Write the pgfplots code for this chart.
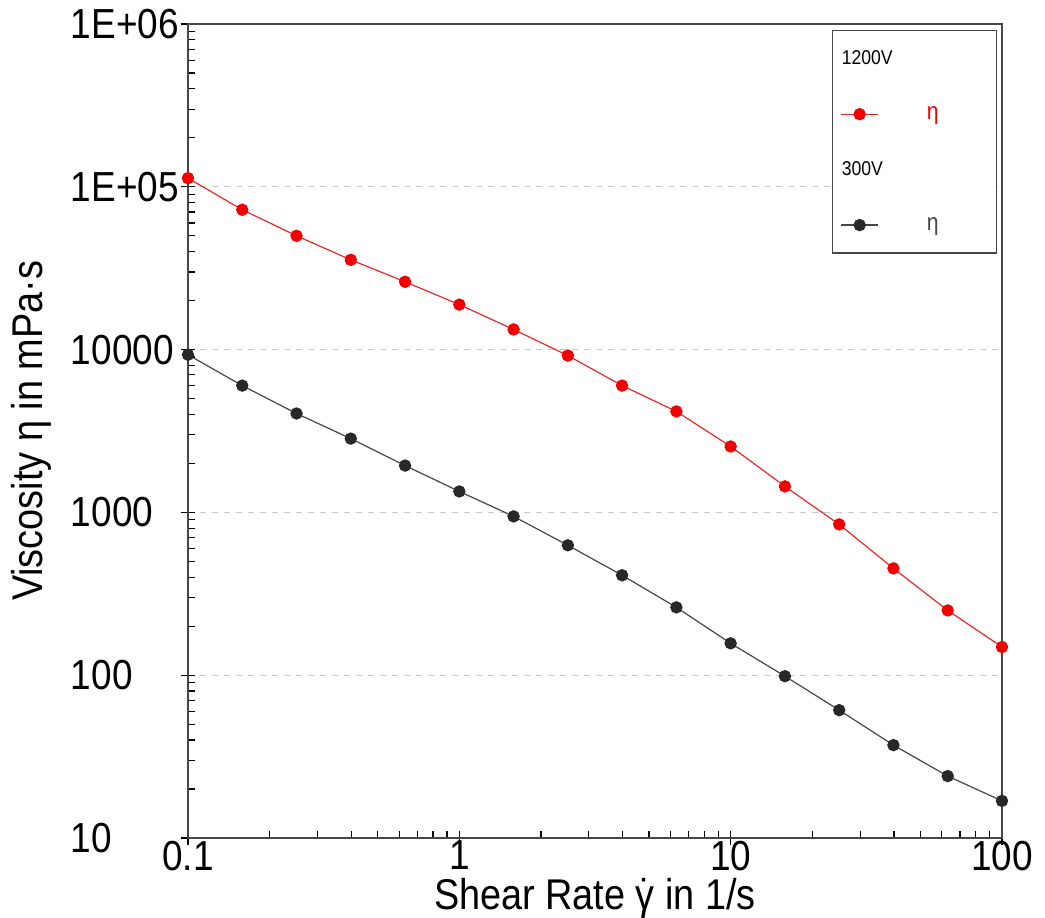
\documentclass[border=0pt]{standalone}
\usepackage{fontspec}
\setmainfont[FakeStretch=0.88]{Liberation Sans}
\usepackage{pgfplots}
\pgfplotsset{compat=1.18}
\usetikzlibrary{calc}

\definecolor{redser}{RGB}{235,40,40}
\definecolor{redmk}{RGB}{240,0,0}
\definecolor{darkser}{RGB}{70,70,70}
\definecolor{darkmk}{RGB}{40,40,40}
\definecolor{gridc}{RGB}{200,200,200}

\newcommand{\gdot}{\ooalign{γ\cr\hidewidth ˙\hidewidth\cr}}

\begin{document}
\begin{tikzpicture}
\begin{axis}[
    name=ax,
    scale only axis, width=407pt, height=407pt,
    xmode=log, ymode=log,
    xmin=0.1, xmax=100, ymin=10, ymax=1e6,
    xtick={0.1,1,10,100}, xticklabels={0.1,1,10,100},
    ytick={10,100,1000,10000,100000,1000000},
    yticklabels={10,100,1000,10000,1E+05,1E+06},
    xtick pos=left, ytick pos=left,
    tick align=inside,
    major tick length=7pt, minor tick length=3.5pt,
    every tick/.style={black, line width=0.6pt},
    every major y tick/.append style={xshift=-3.5pt},
    every major x tick/.append style={yshift=-3.5pt},
    axis line style={darkser, line width=0.8pt},
    ymajorgrids, major grid style={gridc, dashed, line width=0.5pt},
    tick label style={font=\fontsize{21}{25}\selectfont},
    xticklabel style={yshift=2pt},
    yticklabel style={text width=54pt, align=left, xshift=-1pt},
    label style={font=\fontsize{21.5}{25}\selectfont},
    xlabel={Shear Rate \gdot\ in 1/s},
    ylabel={Viscosity η in mPa·s},
    xlabel style={yshift=3pt},
    ylabel style={yshift=3pt},
    clip=false,
    legend cell align=left,
    legend style={at={(rel axis cs:0.994,0.993)}, anchor=north east,
        draw=darkser, line width=0.6pt, font=\fontsize{10}{12}\selectfont,
        row sep=15.5pt, inner xsep=4pt, inner ysep=8pt},
    legend image code/.code={%
        \draw[#1] (0cm,0cm) -- (0.65cm,0cm);
        \draw[#1, only marks] plot coordinates {(0.325cm,0cm)};},
]
\addlegendimage{empty legend}
\addlegendentry{\hspace*{-20.5pt}1200V}
\addplot[redser, line width=0.6pt, mark=*, mark size=2.8pt,
    mark options={fill=redmk, draw=redmk}] coordinates {
(0.1,113000) (0.1585,72300) (0.2512,50000) (0.3981,35600) (0.631,26100)
(1,18900) (1.585,13300) (2.512,9190) (3.981,6010) (6.31,4170)
(10,2540) (15.85,1445) (25.12,844) (39.81,453) (63.1,250) (100,149)};
\addlegendentry{\hspace*{22pt}\textcolor{redmk}{\fontsize{12}{12}\selectfont η}\hspace*{23pt}}
\addlegendimage{empty legend}
\addlegendentry{\hspace*{-20.5pt}300V}
\addplot[darkser, line width=0.6pt, mark=*, mark size=2.8pt,
    mark options={fill=darkmk, draw=darkmk}] coordinates {
(0.1,9300) (0.1585,6010) (0.2512,4050) (0.3981,2840) (0.631,1940)
(1,1345) (1.585,945) (2.512,628) (3.981,411) (6.31,261)
(10,157) (15.85,98.6) (25.12,61) (39.81,37.2) (63.1,24) (100,16.9)};
\addlegendentry{\hspace*{22pt}\textcolor{darkser}{\fontsize{12}{12}\selectfont η}\hspace*{23pt}}
\end{axis}
\pgfresetboundingbox
\path ($(ax.south west)+(-94pt,-39.5pt)$) rectangle ($(ax.north east)+(21.5pt,12pt)$);
\end{tikzpicture}
\end{document}
